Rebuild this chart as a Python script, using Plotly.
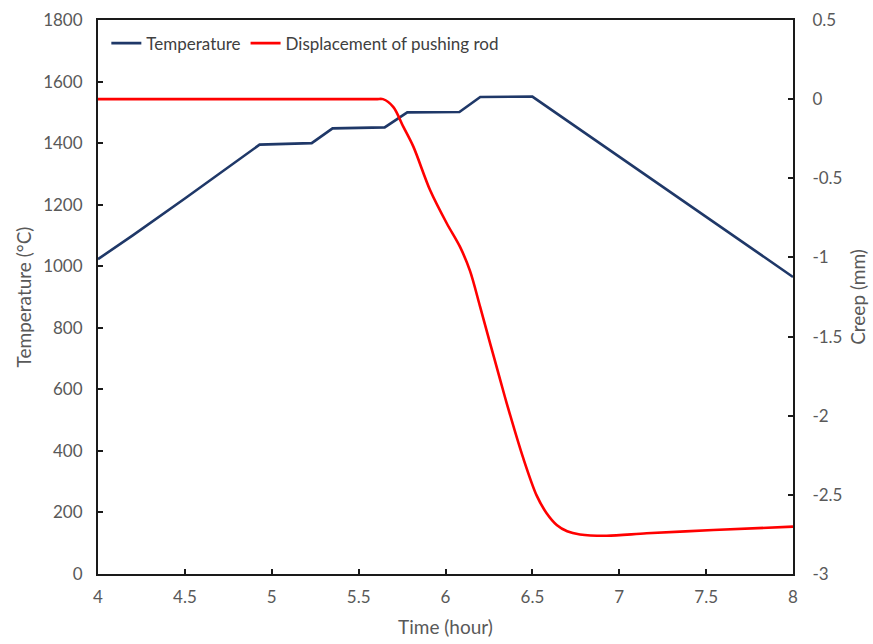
import plotly.graph_objects as go

# Furnace temperature program (time in hours, temperature in °C)
temp_time = [4.00, 4.20, 4.50, 4.93, 5.23, 5.35, 5.65, 5.78, 6.08, 6.20, 6.50, 8.00]
temp_value = [1023, 1100, 1220, 1395, 1400, 1448, 1451, 1500, 1501, 1550, 1551, 965]

# Pushing-rod displacement (creep, mm)
creep_time = [4.00, 5.00, 5.60, 5.64, 5.70, 5.757, 5.815, 5.911, 6.007, 6.083, 6.141,
              6.199, 6.256, 6.314, 6.352, 6.448, 6.525, 6.582, 6.640, 6.700, 6.774, 6.928,
              7.158, 7.541, 8.00]
creep_value = [0.0, 0.0, 0.0, 0.0, -0.05, -0.174, -0.300, -0.574, -0.784, -0.932, -1.085,
               -1.311, -1.540, -1.770, -1.920, -2.270, -2.505, -2.616, -2.690, -2.730, -2.750,
               -2.758, -2.743, -2.722, -2.701]

x_ticks = [4, 4.5, 5, 5.5, 6, 6.5, 7, 7.5, 8]
temp_ticks = [0, 200, 400, 600, 800, 1000, 1200, 1400, 1600, 1800]
creep_ticks = [-3, -2.5, -2, -1.5, -1, -0.5, 0, 0.5]

navy = "#1F3868"
red = "#FF0000"
grey = "#595959"
font = "Lato, 'Open Sans', sans-serif"

fig = go.Figure()
fig.add_trace(go.Scatter(x=temp_time, y=temp_value, mode="lines", name="Temperature",
                         line=dict(color=navy, width=2.6)))
fig.add_trace(go.Scatter(x=creep_time, y=creep_value, mode="lines",
                         name="Displacement of pushing rod", yaxis="y2",
                         line=dict(color=red, width=2.6, shape="spline", smoothing=0.9)))

axis_common = dict(showline=True, linecolor="#1a1a1a", linewidth=2, ticks="inside",
                   ticklen=5, tickwidth=1.5, tickcolor="#1a1a1a", showgrid=False,
                   zeroline=False, automargin=False,
                   tickfont=dict(family=font, size=17, color=grey))
title_font = dict(family=font, size=19, color=grey)

fig.update_layout(
    width=873, height=644,
    margin=dict(l=98, r=80, t=20, b=70),
    paper_bgcolor="white", plot_bgcolor="white",
    font=dict(family=font, color=grey),
    showlegend=True,
    legend=dict(orientation="h", x=0.012, y=0.99, xanchor="left", yanchor="top",
                font=dict(family=font, size=17, color="#404040"),
                bgcolor="rgba(0,0,0,0)", itemwidth=30, tracegroupgap=0),
    xaxis=dict(range=[4, 8], tickvals=x_ticks, ticktext=[str(v) for v in x_ticks],
               mirror=True, ticklabelstandoff=7,
               title=dict(text="Time (hour)", font=title_font, standoff=14),
               **axis_common),
    yaxis=dict(range=[0, 1800], tickvals=temp_ticks, ticktext=[str(v) for v in temp_ticks],
               ticklabelstandoff=10,
               title=dict(text="Temperature (°C)", font=title_font, standoff=6),
               **axis_common),
    yaxis2=dict(range=[-3, 0.5], overlaying="y", side="right", tickvals=creep_ticks,
                ticktext=[f"{v:g}" for v in creep_ticks], ticklabelstandoff=14,
                title=dict(text="Creep (mm)", font=title_font, standoff=10),
                **axis_common),
)

fig.write_html("out.html")
